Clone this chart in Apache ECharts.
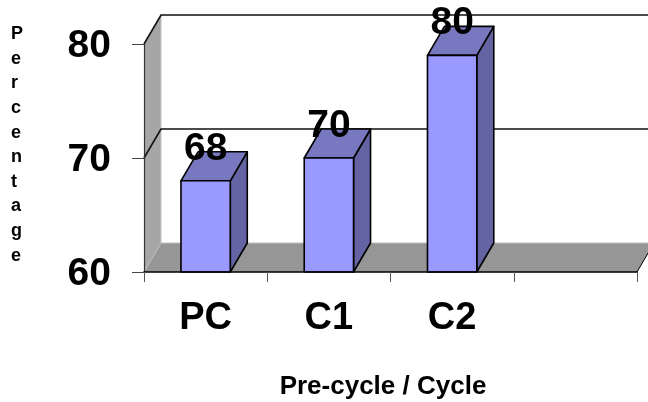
<!DOCTYPE html>
<html>
<head>
<meta charset="utf-8">
<style>
	html, body { margin: 0; padding: 0; background: #fff; }
	#chart { width: 648px; height: 402px; }
</style>
<script src="https://cdn.jsdelivr.net/npm/echarts@6/dist/echarts.min.js"></script>
</head>
<body>
<div id="chart"></div>
<script>
	const categories = ['PC', 'C1', 'C2', ''];
	const barValues = [68, 70, 79];
	const barLabels = ['68', '70', '80'];
	const yTicks = [60, 70, 80];
	const yTitle = 'Percentage';
	const xTitle = 'Pre-cycle / Cycle';

	// oblique offset of the back wall
	const depthX = 17;
	const depthY = 29;
	const fontName = '"Liberation Sans", Arial, sans-serif';

	function renderWall(params, api) {
		const grid = params.coordSys;
		const tick = api.value(0);
		const y = api.coord([categories[0], tick])[1];
		const left = grid.x;
		const right = grid.x + grid.width;
		const children = [];
		if (params.dataIndex === 0) {
			const top = grid.y;
			children.push({
				type: 'polygon',
				shape: { points: [[left, y], [left + depthX, y - depthY], [left + depthX, top - depthY], [left, top]] },
				style: { fill: '#a6a6a6', stroke: null }
			});
			children.push({
				type: 'polygon',
				shape: { points: [[left, y], [left + depthX, y - depthY], [right + depthX, y - depthY], [right, y]] },
				style: { fill: '#969696', stroke: null }
			});
			children.push({
				type: 'line',
				shape: { x1: left + depthX, y1: y - depthY, x2: left + depthX, y2: top - depthY },
				style: { stroke: '#c4c4c4', lineWidth: 1 }
			});
			children.push({
				type: 'line',
				shape: { x1: right, y1: y, x2: right + depthX, y2: y - depthY },
				style: { stroke: '#000', lineWidth: 1 }
			});
		}
		const isFloor = tick === yTicks[0];
		children.push({
			type: 'polyline',
			shape: { points: [[left, y], [left + depthX, y - depthY], [right + depthX, y - depthY]] },
			style: { stroke: isFloor ? '#bdbdbd' : '#111', lineWidth: isFloor ? 1 : 1.6, fill: null }
		});
		return { type: 'group', children: children };
	}

	function renderBar(params, api) {
		const i = params.dataIndex;
		const top = api.coord([i, api.value(1)]);
		const base = api.coord([i, yTicks[0]]);
		const half = api.size([1, 0])[0] * 0.2;
		const x1 = top[0] - half;
		const x2 = top[0] + half;
		const border = { stroke: '#000', lineWidth: 1.6, lineJoin: 'round' };
		return {
			type: 'group',
			children: [
				{
					type: 'polygon',
					shape: { points: [[x2, base[1]], [x2 + depthX, base[1] - depthY], [x2 + depthX, top[1] - depthY], [x2, top[1]]] },
					style: Object.assign({ fill: '#6464a4' }, border)
				},
				{
					type: 'polygon',
					shape: { points: [[x1, top[1]], [x1 + depthX, top[1] - depthY], [x2 + depthX, top[1] - depthY], [x2, top[1]]] },
					style: Object.assign({ fill: '#7878c0' }, border)
				},
				{
					type: 'rect',
					shape: { x: x1, y: top[1], width: x2 - x1, height: base[1] - top[1] },
					style: Object.assign({ fill: '#9999ff' }, border)
				},
				{
					type: 'text',
					style: {
						x: top[0],
						y: top[1] - 32,
						text: barLabels[i],
						align: 'center',
						verticalAlign: 'middle',
						fill: '#000',
						font: 'bold 39px ' + fontName
					}
				}
			]
		};
	}

	const chart = echarts.init(document.getElementById('chart'), null, { renderer: 'canvas' });
	chart.setOption({
		animation: false,
		backgroundColor: '#fff',
		title: {
			text: yTitle.split('').join('\n'),
			left: 11,
			top: 22,
			padding: 0,
			textAlign: 'left',
			textStyle: { color: '#000', fontFamily: fontName, fontWeight: 'bold', fontSize: 18, lineHeight: 24.6 }
		},
		grid: { left: 144, right: 11, top: 44, bottom: 130, outerBoundsMode: 'none' },
		xAxis: {
			type: 'category',
			data: categories,
			z: 5,
			name: xTitle,
			nameLocation: 'middle',
			nameGap: 102,
			nameTextStyle: { color: '#000', fontFamily: fontName, fontWeight: 'bold', fontSize: 26, padding: [0, 15, 0, 0] },
			axisLine: { lineStyle: { color: '#000', width: 1.6 } },
			axisTick: { show: true, length: 10, lineStyle: { color: '#555', width: 1 } },
			axisLabel: { color: '#000', fontFamily: fontName, fontWeight: 'bold', fontSize: 38, margin: 28 }
		},
		yAxis: {
			type: 'value',
			min: 60,
			max: 80,
			interval: 10,
			z: 5,
			splitLine: { show: false },
			axisLine: { show: true, lineStyle: { color: '#333', width: 1.2 } },
			axisTick: { show: true, length: 12, lineStyle: { color: '#444', width: 1 } },
			axisLabel: {
				margin: 33,
				formatter: '{v|{value}}',
				rich: { v: { color: '#000', fontFamily: fontName, fontWeight: 'bold', fontSize: 39, padding: [5, 0, 0, 0] } }
			}
		},
		series: [
			{
				type: 'custom',
				z: 1,
				clip: false,
				data: yTicks.map(function(t) { return [t]; }),
				encode: { y: 0 },
				renderItem: renderWall
			},
			{
				type: 'custom',
				z: 3,
				clip: false,
				data: barValues.map(function(v, i) { return [i, v]; }),
				encode: { x: 0, y: 1 },
				renderItem: renderBar
			}
		]
	});
</script>
</body>
</html>
